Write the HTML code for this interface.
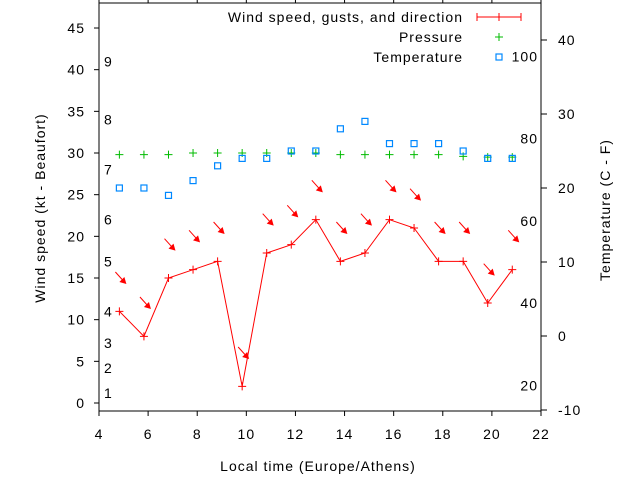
<!DOCTYPE html>
<html><head><meta charset="utf-8"><style>
html,body{margin:0;padding:0;background:#fff;}
svg{display:block;font-family:"Liberation Sans",sans-serif;font-size:14px;}
.ls{letter-spacing:1px;}
</style></head><body>
<svg id="chart" width="640" height="480" viewBox="0 0 640 480" xmlns="http://www.w3.org/2000/svg">
<rect x="0" y="0" width="640" height="480" fill="#fff"/>
<g id="axes"></g>
<g id="marks"></g>
<text class="ls" transform="translate(45,208) rotate(-90)" text-anchor="middle">Wind speed (kt - Beaufort)</text>
<text class="ls" transform="translate(610,210) rotate(-90)" text-anchor="middle">Temperature (C - F)</text>
<text class="ls" x="318" y="471" text-anchor="middle">Local time (Europe/Athens)</text>
<g>
<text class="ls" x="463" y="22" text-anchor="end">Wind speed, gusts, and direction</text>
<line x1="477" y1="17" x2="521" y2="17" stroke="#f00" stroke-width="1"/>
<line x1="477" y1="13" x2="477" y2="21" stroke="#f00"/><line x1="521" y1="13" x2="521" y2="21" stroke="#f00"/>
<line x1="499" y1="13" x2="499" y2="21" stroke="#f00"/>
<text class="ls" x="463" y="42" text-anchor="end">Pressure</text>
<path d="M495 37h8M499 33v8" stroke="#0b0" fill="none"/>
<text class="ls" x="463" y="62" text-anchor="end">Temperature</text>
<rect x="496" y="54" width="6" height="6" fill="none" stroke="#08f" stroke-width="1.2"/>
</g>
</svg>
<script>
const times = [4.83,5.83,6.83,7.83,8.83,9.83,10.83,11.83,12.83,13.83,14.83,15.83,16.83,17.83,18.83,19.83,20.83];
const windSpeed = [11,8,15,16,17,2,18,19,22,17,18,22,21,17,17,12,16];
const gusts = [15,12,19,20,21,6,22,23,26,21,22,26,25,21,21,16,20];
const pressure = [29.8,29.8,29.8,30,30,30,30,30,30,29.8,29.8,29.8,29.8,29.8,29.6,29.5,29.5];
const temperatureC = [20,20,19,21,23,24,24,25,25,28,29,26,26,26,25,24,24];
const xTicks = [4,6,8,10,12,14,16,18,20,22];
const yTicks = [0,5,10,15,20,25,30,35,40,45];
const y2Ticks = [-10,0,10,20,30,40];
const fTicks = [20,40,60,80,100];
const beaufortLabels = ["1","2","3","4","5","6","7","8","9"];
const beaufortKt = [1.2,4.2,7.2,11.0,17.0,22.0,28.0,34.0,41.0];

const L=99,R=541,T=3,B=411;
const X=v=>L+(v-4)*(R-L)/18;
const Y=v=>403-v*8.333;
const Y2=c=>336-c*7.4;
const NS='http://www.w3.org/2000/svg';
function mk(tag,attrs,parent,txt){const e=document.createElementNS(NS,tag);for(const k in attrs)e.setAttribute(k,attrs[k]);if(txt!==undefined)e.textContent=txt;parent.appendChild(e);return e;}
const ax=document.getElementById('axes'), mg=document.getElementById('marks');
const fr=mk('rect',{x:L,y:T,width:R-L,height:B-T,fill:'none',stroke:'#000','stroke-width':1},ax);


xTicks.forEach(v=>{const x=X(v);
 mk('line',{x1:x,y1:B,x2:x,y2:B+5,stroke:'#000'},ax);
 mk('line',{x1:x,y1:T,x2:x,y2:T-5,stroke:'#000'},ax);
 const t=mk('text',{x:x,y:439,'text-anchor':'middle',class:'ls'},ax,String(v));
 
 
});
yTicks.forEach(v=>{const y=Y(v);
 mk('line',{x1:L-5,y1:y,x2:L,y2:y,stroke:'#000'},ax);
 const t=mk('text',{x:85,y:y+5,'text-anchor':'end',class:'ls'},ax,String(v));
 
 
});
y2Ticks.forEach(v=>{const y=Y2(v);
 mk('line',{x1:R,y1:y,x2:R+6,y2:y,stroke:'#000'},ax);
 const t=mk('text',{x:558,y:y+5,class:'ls'},ax,String(v));
 
 
});
fTicks.forEach(f=>{const y=Y2((f-32)*5/9);
 const t=mk('text',{x:538,y:y+5,'text-anchor':'end',class:'ls'},ax,String(f));
 
 
});
beaufortLabels.forEach((b,i)=>{
 const t=mk('text',{x:104,y:Y(beaufortKt[i])+5},ax,b);
 
 
});
const pl=mk('polyline',{points:times.map((t,i)=>X(t)+','+Y(windSpeed[i])).join(' '),fill:'none',stroke:'#f00','stroke-width':1},mg);


times.forEach((t,i)=>{const x=X(t),y=Y(windSpeed[i]);
 const p=mk('path',{d:`M${x-4} ${y}h8M${x} ${y-4}v8`,stroke:'#f00',fill:'none'},mg);
 
 
});
times.forEach((t,i)=>{const x=X(t)+1,y=Y(gusts[i]);
 const g=mk('g',{},mg);
 
 
 mk('line',{x1:x-5,y1:y-6,x2:x+4,y2:y+4,stroke:'#f00','stroke-width':1},g);
 mk('polygon',{points:`${x+6},${y+6} ${x-1},${y+4} ${x+4},${y-1}`,fill:'#f00'},g);
});
times.forEach((t,i)=>{const x=X(t),y=Y(pressure[i]);
 const p=mk('path',{d:`M${x-4} ${y}h8M${x} ${y-4}v8`,stroke:'#0b0',fill:'none'},mg);
 
 
});
times.forEach((t,i)=>{const x=X(t),y=Y2(temperatureC[i]);
 const r=mk('rect',{x:x-3,y:y-3,width:6,height:6,fill:'none',stroke:'#08f','stroke-width':1.2},mg);
 
 
});
</script>
</body></html>
